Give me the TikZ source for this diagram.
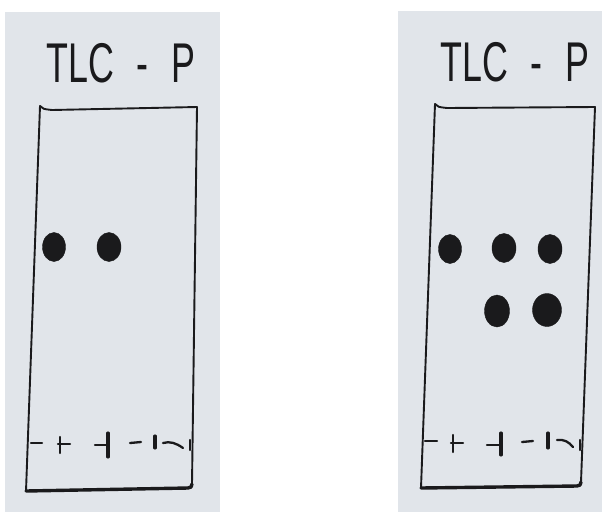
\documentclass[tikz,border=0pt]{standalone}
\usepackage{fontspec}
\setsansfont{Liberation Sans}
\usetikzlibrary{shapes.geometric}
\definecolor{paper}{RGB}{225,229,234}
\definecolor{ink}{RGB}{26,26,28}
\tikzset{
  plate/.style={draw=ink, line width=1.9pt, line cap=round, line join=round},
  platebase/.style={draw=ink, line width=3.4pt, line cap=round, line join=round},
  inkline/.style={draw=ink, line width=2.3pt, line cap=round},
  inkbold/.style={draw=ink, line width=3.1pt, line cap=round},
  spot/.style={ellipse, fill=ink, draw=ink, inner sep=0pt, minimum width=23pt, minimum height=29pt},
  title/.style={anchor=base, text=ink, inner sep=0pt, font=\sffamily\fontsize{56}{56}\selectfont}
}
\newcommand{\tlctitle}{\scalebox{0.64}[1]{TLC\hspace{36pt}-\hspace{36pt}P}}
\begin{document}
\begin{tikzpicture}[x=1pt,y=-1pt]
\useasboundingbox (0,0) rectangle (602,512);
\fill[white] (0,0) rectangle (602,512);
\fill[paper] (5,12) rectangle (220,512);
\fill[paper] (398,11) rectangle (602,512);

% ---------- left plate ----------
\node[title] (titleL) at (121,82) {\tlctitle};
\coordinate (L-tl) at (40,106);
\coordinate (L-tr) at (197,107);
\coordinate (L-br) at (192,484);
\coordinate (L-bl) at (26,491);
\draw[plate] (L-tl) .. controls (43,109) .. (52,110) -- (L-tr) -- (L-br);
\draw[plate] (L-tl) -- (L-bl);
\draw[platebase] (L-bl) -- (188,488) .. controls (191,487.5) .. (L-br);

\node[spot] (L1) at (54,247) {};
\node[spot, minimum width=24pt] (L2) at (109,247) {};

\draw[inkline] (31,443) -- (42,443);
\draw[inkline] (60,437) -- (60,453);
\draw[inkline] (58,444) -- (70,444);
\draw[inkline] (95,445) -- (107,445);
\draw[inkbold] (108,433) -- (108,457);
\draw[inkline] (130,443) -- (141,442);
\draw[inkbold] (155,436) -- (155,448);
\draw[inkline] (163,443) .. controls (170,441) and (176,443) .. (183,448);
\draw[inkline] (190,440) -- (190,450);

% ---------- right plate ----------
\node[title] (titleR) at (515,81) {\tlctitle};
\coordinate (R-tl) at (435,104);
\coordinate (R-tr) at (595,107);
\coordinate (R-br) at (581,482);
\coordinate (R-bl) at (421,488);
\draw[plate] (R-tl) .. controls (438,107) .. (447,108) -- (R-tr) -- (R-br);
\draw[plate] (R-tl) -- (R-bl);
\draw[platebase] (R-bl) -- (577,486) .. controls (580,485.5) .. (R-br);

\node[spot] (R1) at (450,249) {};
\node[spot, minimum width=24pt] (R2) at (504,248) {};
\node[spot, minimum width=24pt] (R3) at (550,249) {};
\node[spot, minimum width=25pt, minimum height=32pt] (R4) at (497,311) {};
\node[spot, minimum width=29pt, minimum height=33pt] (R5) at (547,310) {};

\draw[inkline] (425,441) -- (437,441);
\draw[inkline] (453,435) -- (453,452);
\draw[inkline] (451,443) -- (463,443);
\draw[inkline] (487,445) -- (500,445);
\draw[inkbold] (501,433) -- (501,455);
\draw[inkline] (522,442) -- (533,441);
\draw[inkbold] (548,433) -- (548,448);
\draw[inkline] (557,440) .. controls (564,439) and (569,442) .. (573,447);
\draw[inkline] (580,440) -- (580,450);
\end{tikzpicture}
\end{document}
